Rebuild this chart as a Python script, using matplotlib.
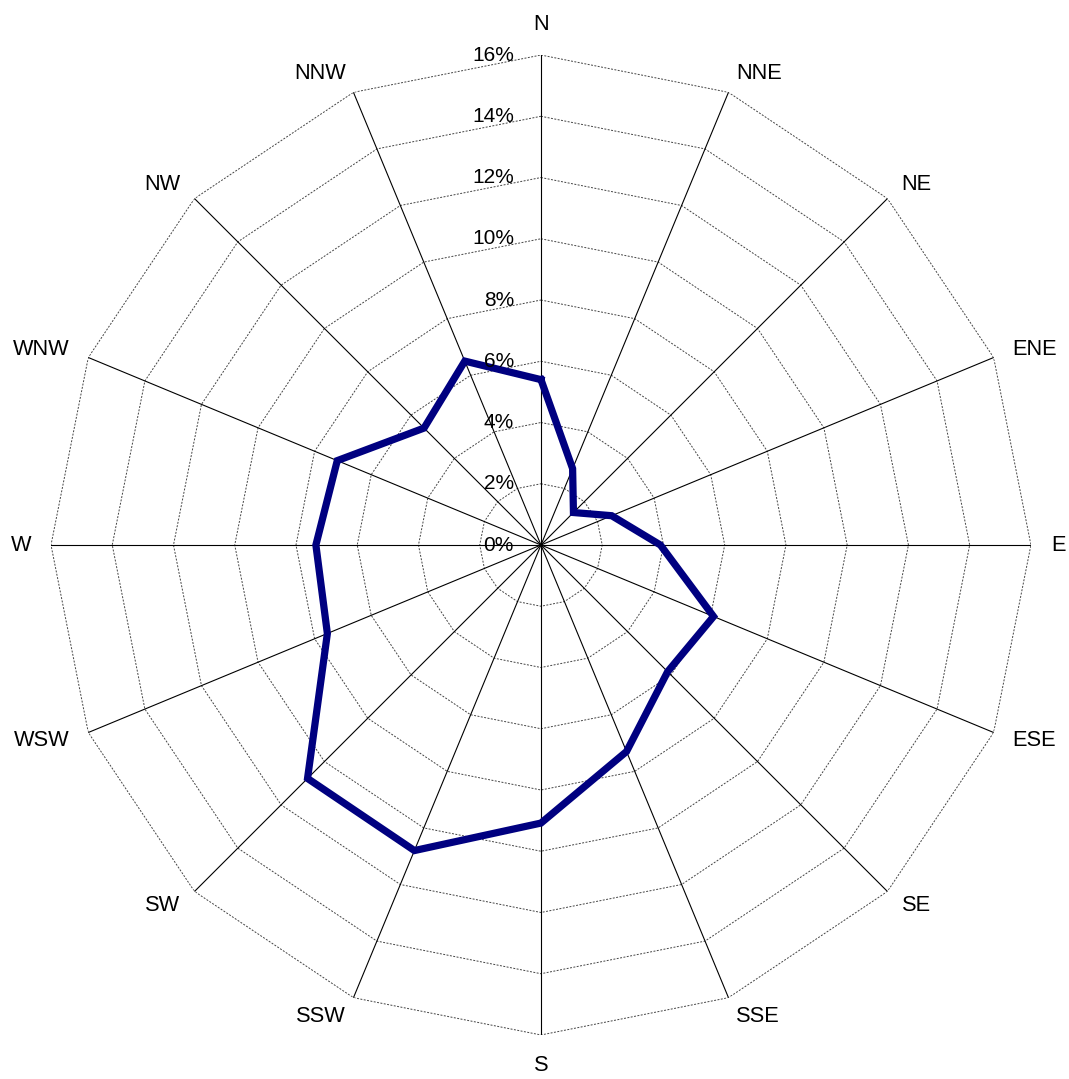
import matplotlib

matplotlib.use("Agg")
import matplotlib.pyplot as plt
import matplotlib.transforms as mtransforms
import numpy as np

plt.rcParams['font.family'] = ['Liberation Sans', 'DejaVu Sans']

directions = ['N', 'NNE', 'NE', 'ENE', 'E', 'ESE', 'SE', 'SSE',
              'S', 'SSW', 'SW', 'WSW', 'W', 'WNW', 'NW', 'NNW']
freq = [5.4, 2.7, 1.5, 2.5, 3.9, 6.1, 5.85, 7.3,
        9.08, 10.8, 10.78, 7.55, 7.35, 7.2, 5.4, 6.5]
rings = [2, 4, 6, 8, 10, 12, 14, 16]
tick_labels = ['0%', '2%', '4%', '6%', '8%', '10%', '12%', '14%', '16%']

n = len(directions)
theta = np.arange(n) * 2 * np.pi / n
theta_closed = np.append(theta, theta[0])

fig = plt.figure(figsize=(10.69, 10.79), dpi=100)
ax = fig.add_axes([0.0477, 0.0408, 0.9167, 0.9082], projection='polar')
ax.set_theta_zero_location('N')
ax.set_theta_direction(-1)
ax.set_ylim(0, 16)
ax.grid(False)
ax.spines['polar'].set_visible(False)
ax.set_xticks([])
ax.set_yticks([])

# polygon rings
for r in rings:
    ax.plot(theta_closed, [r] * (n + 1), color='#444444', lw=0.7,
            linestyle=(0, (2, 1.5)), zorder=1)

# spokes
for t in theta:
    ax.plot([t, t], [0, 16], color='black', lw=0.8, zorder=2)

# data line
ax.plot(theta_closed, freq + freq[:1], color='#000080', lw=5.2,
        solid_joinstyle='miter', zorder=3)

# direction labels, anchored just outside the outer ring
for t, d in zip(theta, directions):
    s = np.sin(t)
    if abs(s) < 1e-6:
        ha = 'center'
        va = 'bottom' if np.cos(t) > 0 else 'top'
    else:
        ha = 'left' if s > 0 else 'right'
        va = 'center'
    ax.text(t, 16.65, d, ha=ha, va=va, fontsize=15.7)

# radial labels
off = mtransforms.offset_copy(ax.transData, fig=fig, x=-27, y=0, units='dots')
for v, lab in zip([0] + rings, tick_labels):
    ax.text(0, v, lab, ha='right', va='center', fontsize=15, transform=off)

fig.savefig('out.png', dpi=100)
